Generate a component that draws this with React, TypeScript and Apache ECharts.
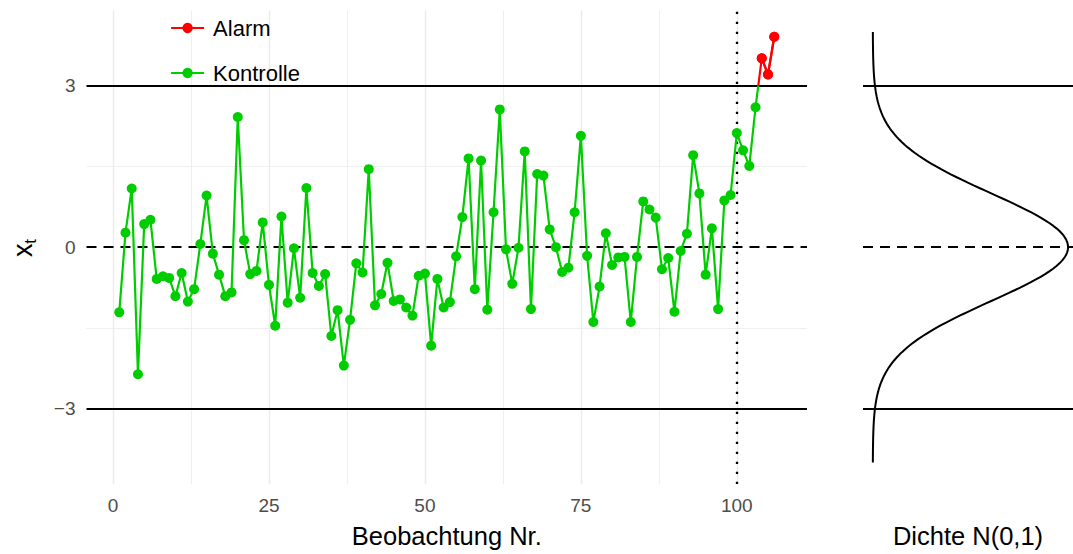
import React, { useEffect, useRef } from "react";
import * as echarts from "echarts";

// Beobachtungen x_t der Kontrollkarte (Nr. 1 .. 106)
const beobachtung: number[] = [
  -1.21, 0.27, 1.09, -2.36, 0.43, 0.51, -0.59, -0.54, -0.57, -0.91,
  -0.48, -1.01, -0.78, 0.06, 0.96, -0.12, -0.51, -0.91, -0.84, 2.42,
  0.13, -0.5, -0.44, 0.46, -0.7, -1.46, 0.57, -1.03, -0.02, -0.94,
  1.1, -0.48, -0.72, -0.5, -1.65, -1.17, -2.2, -1.35, -0.3, -0.47,
  1.45, -1.08, -0.87, -0.29, -1.0, -0.97, -1.12, -1.27, -0.53, -0.49,
  -1.83, -0.59, -1.12, -1.02, -0.17, 0.56, 1.65, -0.78, 1.61, -1.16,
  0.65, 2.56, -0.04, -0.68, -0.01, 1.78, -1.15, 1.36, 1.33, 0.33,
  0.0, -0.46, -0.38, 0.65, 2.07, -0.16, -1.39, -0.73, 0.26, -0.33,
  -0.19, -0.18, -1.39, -0.18, 0.85, 0.7, 0.55, -0.41, -0.2, -1.2,
  -0.07, 0.25, 1.71, 1.0, -0.51, 0.35, -1.15, 0.87, 0.97, 2.12,
  1.8, 1.51, 2.6, 3.51, 3.21, 3.91,
];
const beobachtungNr: number[] = beobachtung.map((_, i) => i + 1);

// Eingriffsgrenzen, Mittellinie und Beginn der Überwachungsphase
const eingriffsgrenzen: number[] = [-3, 3];
const mittellinie = 0;
const phasenwechsel = 100;

// Achsenbeschriftungen
const xTicks: number[] = [0, 25, 50, 75, 100];
const yTicks: number[] = [-3, 0, 3];
const xGridMajor: number[] = [0, 25, 50, 75, 100];
const xGridMinor: number[] = [12.5, 37.5, 62.5, 87.5];
const yGridMinor: number[] = [-1.5, 1.5];

// Dichte der Standardnormalverteilung auf [-4, 4]
const dichteZ: number[] = Array.from({ length: 161 }, (_, i) => -4 + i * 0.05);
const dichteWert: number[] = dichteZ.map(
  (z) => Math.exp(-0.5 * z * z) / Math.sqrt(2 * Math.PI)
);

const GRUEN = "#00CD00";
const ROT = "#FF0000";
const GRID_COLOR = "#EBEBEB";
const FONT = "'Liberation Sans', Arial, Helvetica, sans-serif";

const Y_MIN = -4.4;
const Y_MAX = 4.4;

export default function App() {
  const ref = useRef<HTMLDivElement>(null);

  useEffect(() => {
    if (!ref.current) return;
    const chart = echarts.init(ref.current, undefined, { renderer: "svg" });

    const kontrolleDaten = beobachtungNr.map((n, i) => [n, beobachtung[i]]);
    const alarmDaten = beobachtungNr
      .map((n, i) => [n, beobachtung[i]])
      .filter((p) => p[1] > eingriffsgrenzen[1]);

    const minusFmt = (v: number) =>
      v < 0 ? "\u2212" + Math.abs(v) : String(v);

    const option: any = {
      animation: false,
      backgroundColor: "#FFFFFF",
      textStyle: { fontFamily: FONT },
      grid: [
        { left: 86.5, width: 720.5, top: 10.4, bottom: 68.4 },
        { left: 863, right: 0, top: 10.4, bottom: 68.4 },
      ],
      xAxis: [
        {
          type: "value",
          gridIndex: 0,
          min: -4.25,
          max: 111.25,
          axisLine: { show: false },
          axisTick: { show: false, customValues: xTicks },
          splitLine: { show: false },
          axisLabel: {
            customValues: xTicks,
            color: "#4D4D4D",
            fontSize: 19,
            margin: 12,
            fontFamily: FONT,
          },
          name: "Beobachtung Nr.",
          nameLocation: "middle",
          nameGap: 39,
          nameTextStyle: { color: "#000000", fontSize: 25.5, fontFamily: FONT },
        },
        {
          type: "value",
          gridIndex: 1,
          min: -0.02,
          max: 0.409,
          axisLine: { show: false },
          axisTick: { show: false },
          splitLine: { show: false },
          axisLabel: { show: false },
          name: "Dichte N(0,1)",
          nameLocation: "middle",
          nameGap: 39,
          nameTextStyle: { color: "#000000", fontSize: 25.5, fontFamily: FONT },
        },
      ],
      yAxis: [
        {
          type: "value",
          gridIndex: 0,
          min: Y_MIN,
          max: Y_MAX,
          axisLine: { show: false },
          axisTick: { show: false, customValues: yTicks },
          splitLine: { show: false },
          axisLabel: {
            customValues: yTicks,
            formatter: minusFmt,
            color: "#4D4D4D",
            fontSize: 19,
            margin: 11,
            fontFamily: FONT,
          },
        },
        {
          type: "value",
          gridIndex: 1,
          min: Y_MIN,
          max: Y_MAX,
          axisLine: { show: false },
          axisTick: { show: false },
          splitLine: { show: false },
          axisLabel: { show: false },
        },
      ],
      // Färbung der Kontrolllinie: oberhalb der Grenze rot
      visualMap: [
        {
          type: "piecewise",
          show: false,
          seriesIndex: 0,
          dimension: 1,
          pieces: [
            { gte: -10, lte: eingriffsgrenzen[1], color: GRUEN },
            { gt: eingriffsgrenzen[1], lte: 10, color: ROT },
          ],
          outOfRange: { color: GRUEN },
        },
      ],
      legend: {
        orient: "vertical",
        left: 165,
        top: 12,
        itemWidth: 33,
        itemHeight: 13,
        itemGap: 23,
        textStyle: {
          fontSize: 22,
          lineHeight: 21,
          color: "#000000",
          fontFamily: FONT,
          padding: [0, 0, 0, 4],
        },
        data: [
          {
            name: "Alarm",
            itemStyle: { color: ROT },
            lineStyle: { color: ROT, width: 2.2 },
          },
          {
            name: "Kontrolle",
            itemStyle: { color: GRUEN },
            lineStyle: { color: GRUEN, width: 2.2 },
          },
        ],
      },
      series: [
        {
          name: "Kontrolle",
          type: "line",
          xAxisIndex: 0,
          yAxisIndex: 0,
          data: kontrolleDaten,
          symbol: "circle",
          symbolSize: 10,
          showAllSymbol: true,
          lineStyle: { width: 2.2 },
          z: 5,
          // Hintergrundraster
          markLine: {
            z: 1,
            symbol: ["none", "none"],
            silent: true,
            animation: false,
            label: { show: false },
            data: [
              ...xGridMajor.map((v) => ({
                xAxis: v,
                lineStyle: { color: GRID_COLOR, width: 1.4, type: "solid" },
              })),
              ...xGridMinor.map((v) => ({
                xAxis: v,
                lineStyle: { color: GRID_COLOR, width: 0.8, type: "solid" },
              })),
              ...yGridMinor.map((v) => ({
                yAxis: v,
                lineStyle: { color: GRID_COLOR, width: 0.8, type: "solid" },
              })),
            ],
          },
        },
        {
          name: "Alarm",
          type: "line",
          xAxisIndex: 0,
          yAxisIndex: 0,
          data: alarmDaten,
          symbol: "circle",
          symbolSize: 10,
          lineStyle: { width: 2.2, color: ROT },
          itemStyle: { color: ROT },
          z: 6,
          // Grenzen, Mittellinie und Phasenwechsel
          markLine: {
            z: 3,
            symbol: ["none", "none"],
            silent: true,
            animation: false,
            label: { show: false },
            data: [
              ...eingriffsgrenzen.map((v) => ({
                yAxis: v,
                lineStyle: { color: "#000000", width: 2, type: "solid" },
              })),
              {
                yAxis: mittellinie,
                lineStyle: { color: "#000000", width: 2, type: [10, 7] },
              },
              {
                xAxis: phasenwechsel,
                lineStyle: { color: "#000000", width: 2.3, type: [2.3, 7.7] },
              },
            ],
          },
        },
        {
          name: "dichte",
          type: "line",
          xAxisIndex: 1,
          yAxisIndex: 1,
          data: dichteZ.map((z, i) => [dichteWert[i], z]),
          showSymbol: false,
          symbol: "none",
          lineStyle: { color: "#000000", width: 2 },
          z: 4,
          markLine: {
            symbol: ["none", "none"],
            silent: true,
            animation: false,
            label: { show: false },
            data: [
              ...eingriffsgrenzen.map((v) => ({
                yAxis: v,
                lineStyle: { color: "#000000", width: 2, type: "solid" },
              })),
              {
                yAxis: mittellinie,
                lineStyle: { color: "#000000", width: 2, type: [10, 7] },
              },
            ],
          },
        },
      ],
      graphic: [
        {
          type: "text",
          x: 23,
          y: 248,
          rotation: Math.PI / 2,
          style: {
            text: "{a|x}{b|t}",
            align: "center",
            verticalAlign: "middle",
            rich: {
              a: {
                fontSize: 27,
                lineHeight: 32,
                fontFamily: FONT,
                fill: "#000000",
                verticalAlign: "middle",
              },
              b: {
                fontSize: 17,
                lineHeight: 32,
                fontFamily: FONT,
                fill: "#000000",
                verticalAlign: "bottom",
              },
            },
          },
        },
      ],
    };

    chart.setOption(option);
    return () => chart.dispose();
  }, []);

  return (
    <div
      ref={ref}
      style={{
        position: "fixed",
        left: 0,
        top: 0,
        width: 1073,
        height: 554,
        background: "#FFFFFF",
      }}
    />
  );
}
